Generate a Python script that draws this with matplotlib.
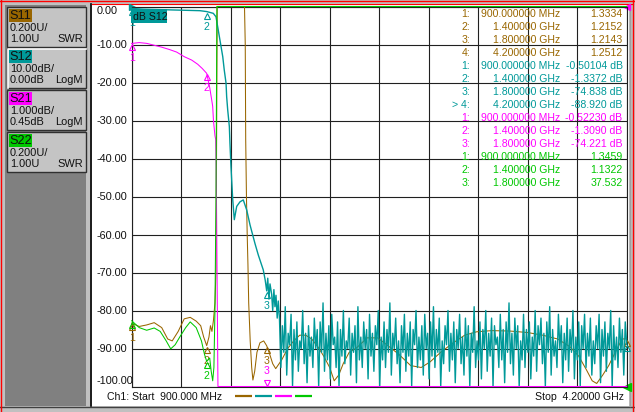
import numpy as np
import matplotlib.pyplot as plt
from matplotlib.patches import Rectangle
from matplotlib.transforms import offset_copy

plt.rcParams['font.family'] = ['Liberation Sans', 'DejaVu Sans']
plt.rcParams['font.size'] = 7.6

W, H = 635, 412
BROWN = '#996600'
TEAL = '#009999'
MAGENTA = '#ff00ff'
GREEN = '#00c800'
GRID = '#202020'

# sweep (GHz)
f_start = 0.9
f_stop = 4.2

# S11, SWR, 0.2U/div, ref 1.00 at bottom
s11_freq = [0.900, 0.950, 1.000, 1.050, 1.100, 1.140, 1.170, 1.210, 1.250, 1.290,
            1.330, 1.360, 1.380, 1.400, 1.415, 1.425, 1.435, 1.445, 1.455, 1.462,
            1.470, 1.550, 1.652, 1.657, 1.660, 1.665, 1.670, 1.675, 1.680, 1.690,
            1.700, 1.708, 1.720, 1.735, 1.755, 1.780, 1.800, 1.820, 1.840, 1.860,
            1.900, 1.940, 1.980, 2.020, 2.060, 2.100, 2.140, 2.180, 2.220, 2.250,
            2.280, 2.310, 2.350, 2.400, 2.470, 2.540, 2.600, 2.680, 2.760, 2.830,
            2.890, 2.960, 3.040, 3.120, 3.200, 3.300, 3.420, 3.540, 3.640, 3.740,
            3.820, 3.880, 3.930, 3.970, 4.000, 4.040, 4.080, 4.130, 4.170, 4.200]
s11_swr = [1.3334, 1.316, 1.324, 1.336, 1.31, 1.25, 1.24, 1.29, 1.356, 1.364,
           1.344, 1.32, 1.26, 1.2152, 1.26, 1.32, 1.29, 1.348, 1.44, 1.61,
           4.5, 18.0, 3.6, 2.8, 2.3, 2.0, 1.8, 1.64, 1.44, 1.24,
           1.10, 1.034, 1.08, 1.18, 1.23, 1.24, 1.2143, 1.17, 1.12, 1.094,
           1.14, 1.20, 1.24, 1.27, 1.27, 1.25, 1.21, 1.16, 1.10, 1.03,
           1.06, 1.12, 1.18, 1.204, 1.256, 1.256, 1.22, 1.17, 1.11, 1.10,
           1.13, 1.18, 1.228, 1.27, 1.288, 1.294, 1.292, 1.284, 1.27, 1.25,
           1.21, 1.16, 1.09, 1.03, 1.016, 1.06, 1.11, 1.19, 1.25, 1.2512]

# S12, LogM, 10 dB/div, ref 0 dB at top
s12_freq = [0.900, 0.977, 1.177, 1.355, 1.400, 1.444, 1.462, 1.473, 1.484, 1.495,
            1.507, 1.517, 1.529, 1.533, 1.540, 1.551, 1.555, 1.562, 1.573, 1.584,
            1.600, 1.622, 1.644, 1.667, 1.689, 1.722, 1.744, 1.777, 1.790, 1.800,
            1.807, 1.815, 1.822, 1.833, 1.840, 1.848, 1.855, 1.862, 1.870, 1.877]
s12_db = [-0.50, -0.7, -0.9, -1.1, -1.337, -1.8, -2.7, -5.3, -7.9, -10.6,
          -13.2, -16.7, -20.2, -23.7, -27.2, -31.6, -36.0, -42.2, -50.5, -56.1,
          -52.6, -51.4, -50.9, -53.6, -57.5, -62.4, -65.4, -69.3, -72.0, -74.84,
          -71.5, -77.0, -73.0, -75.7, -80.0, -74.5, -79.0, -76.0, -82.0, -77.5]
# S12 noise floor, 1.885 GHz .. 4.2 GHz
s12_floor_db = [
    -82, -95, -84, -91, -79, -97, -86, -89, -81, -100, -85, -93, -83, -96, -88, -90, -80, -94, -86, -99,
    -84, -92, -87, -95, -82, -90, -85, -100, -83, -91, -78, -96, -86, -93, -84, -98, -81, -89, -87, -95,
    -83, -100, -85, -92, -80, -94, -88, -90, -82, -97, -86, -91, -84, -99, -79, -93, -87, -95, -83, -90,
    -85, -98, -81, -92, -86, -96, -84, -89, -80, -100, -87, -93, -83, -95, -85, -91, -78, -97, -86, -90,
    -82, -94, -88, -99, -84, -91, -81, -96, -86, -92, -83, -100, -85, -89, -80, -95, -87, -93, -84, -97,
    -81, -90, -86, -98, -83, -92, -79, -95, -85, -91, -82, -100, -88, -94, -84, -89, -80, -96, -86, -93,
    -83, -99, -85, -90, -81, -94, -87, -97, -82, -92, -84, -100, -86, -91, -79, -95, -88, -93, -83, -98,
    -85, -90, -80, -96, -86, -92, -82, -100, -84, -89, -87, -95, -81, -93, -85, -99, -83, -91, -78, -94,
    -86, -97, -82, -90, -84, -100, -88, -93, -81, -95, -85, -91, -83, -98, -87, -92, -80, -96, -84, -89,
    -82, -94, -86, -100, -83, -91, -79, -97, -85, -92, -88, -95, -81, -90, -84, -99, -86, -93, -82, -96,
    -85, -91, -80, -98, -87, -93, -83, -100, -84, -90, -81, -95, -86, -92, -82, -97, -88, -94, -84, -90,
    -81, -99, -85, -92, -83, -96, -86, -90, -80, -100, -84, -93, -87, -95, -82, -91, -85, -97, -83, -88.9]

# S21, LogM, 1 dB/div, ref 0.45 dB at top
s21_freq = [0.900, 0.950, 1.000, 1.050, 1.100, 1.150, 1.200, 1.250, 1.300, 1.340,
            1.370, 1.400, 1.420, 1.435, 1.440, 1.445, 1.450, 1.455, 1.460, 1.463,
            1.466, 1.470, 1.475, 1.500, 1.600, 1.800, 2.500, 3.500, 4.200]
s21_db = [-0.5223, -0.50, -0.52, -0.57, -0.62, -0.68, -0.75, -0.87, -0.96, -1.07,
          -1.18, -1.309, -1.68, -2.05, -2.18, -2.55, -2.75, -2.95, -3.05, -3.75,
          -5.05, -7.05, -20.0, -35.0, -55.0, -74.221, -80.0, -85.0, -90.0]

# S22, SWR, 0.2U/div, ref 1.00 at bottom
s22_freq = [0.900, 0.950, 1.000, 1.050, 1.090, 1.130, 1.160, 1.190, 1.220, 1.260,
            1.290, 1.330, 1.365, 1.385, 1.400, 1.420, 1.430, 1.440, 1.448, 1.455,
            1.462, 1.468, 1.600, 1.800, 2.500, 3.500, 4.200]
s22_swr = [1.3459, 1.31, 1.296, 1.308, 1.29, 1.24, 1.198, 1.22, 1.26, 1.31,
           1.34, 1.31, 1.24, 1.17, 1.1322, 1.15, 1.08, 1.03, 1.10, 1.40,
           2.0, 5.0, 25.0, 37.532, 30.0, 30.0, 30.0]

# markers
mkr_freq = [0.9, 1.4, 1.8, 4.2]
s11_mkr = [1.3334, 1.2152, 1.2143, 1.2512]
s12_mkr = [-0.50104, -1.3372, -74.838, -88.920]
s21_mkr = [-0.52230, -1.3090, -74.221]
s22_mkr = [1.3459, 1.1322, 37.532]

fig = plt.figure(figsize=(W / 100, H / 100), dpi=100, facecolor='#c0c0c0')

# window chrome in pixel coordinates
bg = fig.add_axes([0, 0, 1, 1], zorder=-5)
bg.set_xlim(0, W)
bg.set_ylim(H, 0)
bg.axis('off')
bg.add_patch(Rectangle((0, 0), W, H, fc='#c0c0c0', ec='none'))
bg.add_patch(Rectangle((5, 5), 81, 401, fc='#808080', ec='none'))
bg.add_patch(Rectangle((92, 4), 537, 402, fc='white', ec='none'))
bg.plot([91, 91], [4, 406], color='black', lw=1.2)
bg.plot([0, W], [407, 407], color='#404040', lw=1)
bg.plot([629.5, 629.5], [4, 406], color='#a0a0a0', lw=1)
bg.plot([1, 1], [0, H], color='red', lw=1)
bg.plot([0, W], [1, 1], color='red', lw=1)
bg.plot([92, 633], [3.5, 3.5], color='red', lw=0.8)
bg.plot([632.5, 632.5], [0, H], color='red', lw=1)

boxes = [('S11', BROWN, '0.200U/', '1.00U', 'SWR', 7),
         ('S12', TEAL, '10.00dB/', '0.00dB', 'LogM', 48),
         ('S21', MAGENTA, '1.000dB/', '0.45dB', 'LogM', 90),
         ('S22', GREEN, '0.200U/', '1.00U', 'SWR', 132)]
for name, col, l1, l2, fmt, y0 in boxes:
    bg.add_patch(Rectangle((7, y0), 79, 40, fc='#c4c4c4', ec='#303030', lw=1))
    if name == 'S12':
        bg.plot([7.5, 7.5, 85.5], [y0 + 40, y0 + 0.5, y0 + 0.5], color='white', lw=1.2)
    bg.add_patch(Rectangle((8.5, y0 + 1.5), 23, 13.5, fc=col, ec='none'))
    bg.text(9.5, y0 + 8.8, name, fontsize=9.2, va='center', ha='left', color='#101010')
    bg.text(10, y0 + 20.5, l1, fontsize=7.9, va='center', ha='left', color='#101010')
    bg.text(10, y0 + 32, l2, fontsize=7.9, va='center', ha='left', color='#101010')
    bg.text(83, y0 + 32, fmt, fontsize=7.9, va='center', ha='right', color='#101010')

# graticule, S12 scale
ax = fig.add_axes([131.7 / W, (H - 386.5) / H, 495 / W, 380 / H])
ax.set_facecolor('white')
ax.set_xlim(f_start, f_stop)
ax.set_ylim(-100, 0)
ax.set_xticks(np.linspace(f_start, f_stop, 11))
yt = list(range(-100, 1, 10))
ax.set_yticks(yt)
ax.set_yticklabels([f'{v:.2f}' for v in yt])
ax.tick_params(length=0, labelbottom=False, labelsize=7.8, pad=25.3, labelcolor='#101010')
plt.setp(ax.get_yticklabels(), ha='left')
ylabs = ax.get_yticklabels()
ylabs[0].set_va('bottom')
ylabs[-1].set_va('top')
ax.grid(True, color=GRID, lw=0.8)
for s in ax.spines.values():
    s.set_color(GRID)
    s.set_linewidth(0.8)


def overlay(lo, hi):
    a = ax.twinx()
    a.set_ylim(lo, hi)
    a.set_axis_off()
    return a


def trace(a, x, y, color, lw=0.75):
    lo, hi = a.get_ylim()
    a.plot(x, np.clip(y, lo, hi), color=color, lw=lw, clip_on=False)


def marker(a, f, v, label, color, show_label=True):
    lo, hi = a.get_ylim()
    if v > hi:
        return
    if v < lo:
        tr = offset_copy(a.transData, y=4, units='dots')
        a.plot([f], [lo], marker='v', mfc='none', mec=color, ms=5, mew=0.8,
               transform=tr, clip_on=False)
        if show_label:
            a.annotate(label, (f, lo), xytext=(0, 15), textcoords='offset pixels',
                       ha='center', va='center', color=color, annotation_clip=False)
    else:
        tr = offset_copy(a.transData, y=-4, units='dots')
        a.plot([f], [v], marker='^', mfc='none', mec=color, ms=5, mew=0.8,
               transform=tr, clip_on=False)
        if show_label:
            a.annotate(label, (f, v), xytext=(0, -15), textcoords='offset pixels',
                       ha='center', va='center', color=color, annotation_clip=False)


ax11 = overlay(1.0, 3.0)
ax12 = overlay(-100, 0)
ax21 = overlay(0.45 - 10, 0.45)
ax22 = overlay(1.0, 3.0)

trace(ax11, s11_freq, s11_swr, BROWN)
s12_all_f = s12_freq + list(np.linspace(1.885, f_stop, len(s12_floor_db)))
trace(ax12, s12_all_f, s12_db + s12_floor_db, TEAL, lw=1.0)
trace(ax21, s21_freq, s21_db, MAGENTA)
trace(ax22, s22_freq, s22_swr, GREEN)

for a, vals, col in [(ax11, s11_mkr, BROWN), (ax12, s12_mkr, TEAL),
                     (ax21, s21_mkr, MAGENTA), (ax22, s22_mkr, GREEN)]:
    for i, v in enumerate(vals):
        # the stop-frequency markers sit on the right edge without a number
        show = mkr_freq[i] < f_stop and not (col == GREEN and i == 0)
        marker(a, mkr_freq[i], v, str(i + 1), col, show)

# reference pointers
ax.plot([0], [1], marker='>', color=TEAL, ms=5, transform=ax.transAxes, clip_on=False)
ax.plot([1], [1], marker='<', color=MAGENTA, ms=5, transform=ax.transAxes, clip_on=False)
ax.plot([1], [0], marker='<', color=GREEN, ms=6, transform=ax.transAxes, clip_on=False)

# text overlay in pixel coordinates
top = fig.add_axes([0, 0, 1, 1], zorder=10)
top.set_xlim(0, W)
top.set_ylim(H, 0)
top.axis('off')

top.add_patch(Rectangle((131, 9), 36, 14, fc=TEAL, ec='none'))
top.text(133, 16.5, 'dB S12', va='center', ha='left', color='#101010')


def fstr(f):
    if f < 1:
        return f'{f * 1000:.6f} MHz'
    return f'{f:.6f} GHz'


rows = []
for i, v in enumerate(s11_mkr):
    rows.append((BROWN, f'{i + 1}:', fstr(mkr_freq[i]), f'{v:#.5g}'))
for i, v in enumerate(s12_mkr):
    num = f'> {i + 1}:' if i == 3 else f'{i + 1}:'
    rows.append((TEAL, num, fstr(mkr_freq[i]), f'{v:#.5g} dB'))
for i, v in enumerate(s21_mkr):
    rows.append((MAGENTA, f'{i + 1}:', fstr(mkr_freq[i]), f'{v:#.5g} dB'))
for i, v in enumerate(s22_mkr):
    rows.append((GREEN, f'{i + 1}:', fstr(mkr_freq[i]), f'{v:#.5g}'))

for r, (col, num, fs, vs) in enumerate(rows):
    y = 14.3 + 12.95 * r
    top.text(470, y, num, ha='right', va='center', color=col)
    top.text(560, y, fs, ha='right', va='center', color=col)
    top.text(622.5, y, vs, ha='right', va='center', color=col)

# status bar
top.text(107, 397, 'Ch1: Start  900.000 MHz', ha='left', va='center', color='#101010')
top.text(624, 397, 'Stop  4.20000 GHz', ha='right', va='center', color='#101010')
for x0, col in [(235, BROWN), (255, TEAL), (275, MAGENTA), (295, GREEN)]:
    top.plot([x0, x0 + 17], [395.7, 395.7], color=col, lw=1.6, solid_capstyle='butt')

fig.savefig('out.png', dpi=100, facecolor=fig.get_facecolor())
